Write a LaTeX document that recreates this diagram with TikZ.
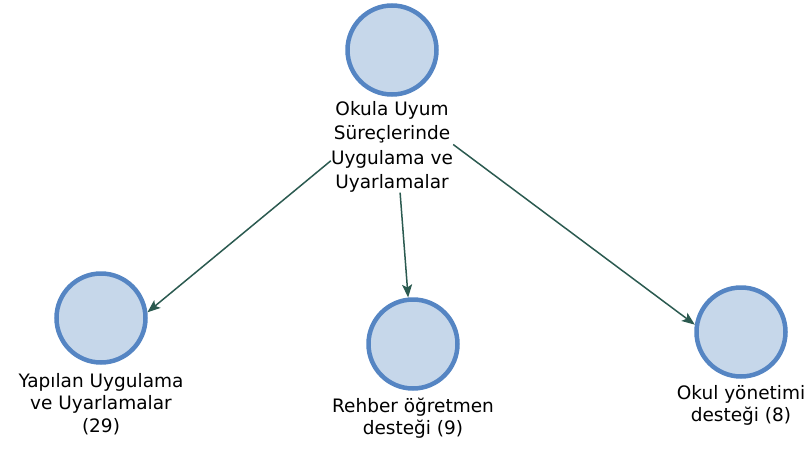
\documentclass[tikz,border=0pt]{standalone}
\usepackage{fontspec}
\setmainfont{DejaVu Sans}
\usetikzlibrary{arrows.meta,positioning}
\definecolor{ringblue}{HTML}{5585C3}
\definecolor{discfill}{HTML}{C6D7EA}
\definecolor{linkgreen}{HTML}{2B5A50}

\begin{document}
\begin{tikzpicture}[x=1pt,y=-1pt,
    theme/.style={circle,draw=ringblue,fill=discfill,line width=4.5pt,minimum size=89pt,inner sep=0pt},
    caption/.style={align=center,font=\fontsize{18.5}{22.5}\selectfont,inner sep=0pt,text=black},
    link/.style={-{Stealth[length=13pt,width=10pt,inset=3pt]},draw=linkgreen,line width=1.5pt}]
\useasboundingbox (0,0) rectangle (810,450);

% ana tema
\node[theme] (ana) at (392,50) {};
\node[caption,font=\fontsize{18.5}{24.5}\selectfont,below=4pt of ana] (anaad)
    {Okula Uyum\\Süreçlerinde\\Uygulama ve\\Uyarlamalar};

% alt temalar
\node[theme] (yapilan) at (101,318) {};
\node[caption,below=8pt of yapilan] (yapilanad) {Yapılan Uygulama\\ve Uyarlamalar\\(29)};

\node[theme] (rehber) at (413,344) {};
\node[caption,below=7pt of rehber] (rehberad) {Rehber öğretmen\\desteği (9)};

\node[theme] (yonetim) at (741,332) {};
\node[caption,below=6pt of yonetim] (yonetimad) {Okul yönetimi\\desteği (8)};

% baglantilar
\draw[link] (anaad.193) -- (yapilan.7);
\draw[link] (anaad.280) -- (rehber.96);
\draw[link] (anaad.2) -- (yonetim.171);
\end{tikzpicture}
\end{document}
